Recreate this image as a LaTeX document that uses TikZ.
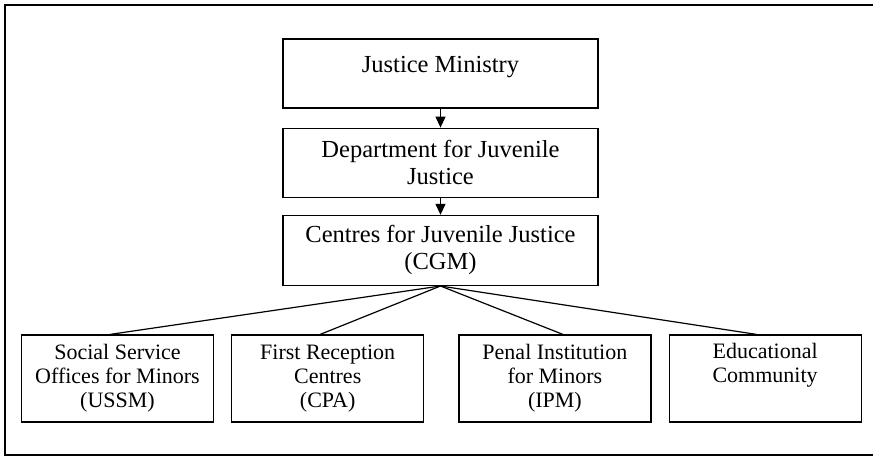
\documentclass[tikz,border=0pt]{standalone}
\usepackage{fontspec}
\setmainfont{Liberation Serif}
\usepackage{tikz}
\usetikzlibrary{arrows.meta}
\usetikzlibrary{calc,positioning}
\newlength{\orgboxsep}\setlength{\orgboxsep}{17pt}
\newlength{\orgwidesep}\setlength{\orgwidesep}{34pt}

\begin{document}
\begin{tikzpicture}[x=1pt,y=-1pt,
  topbox/.style={draw,line width=1.2pt,minimum width=315pt,minimum height=69pt,inner sep=0,align=center,font=\fontsize{24.5}{27}\selectfont},
  lowbox/.style={draw,line width=1.2pt,minimum width=192pt,minimum height=87pt,inner sep=0,align=center,font=\fontsize{22}{24}\selectfont},
  down/.style={-{Triangle[length=11pt,width=10pt]},line width=1.3pt},
  fan/.style={line width=1.2pt}]
\useasboundingbox (0,0) rectangle (873,456);
% outer frame
\draw[line width=1.5pt] (5,5) rectangle (890,455);
%%%%%%%%%%%%%%%%%%%%%%%%%%%%
%%%%%%%%% Ministry %%%%%%%%%
%%%%%%%%%%%%%%%%%%%%%%%%%%%%
\node[topbox, text depth=18pt] (ministry) at (440.5,73.5) {Justice Ministry};
\node[topbox, below=19pt of ministry] (dept) {Department for Juvenile\\Justice};
\node[topbox, minimum height=70pt, below=17pt of dept] (cgm) {Centres for Juvenile Justice\\(CGM)};
\draw[down] (ministry) -- (dept);
\draw[down] (dept) -- (cgm);
%%%%%%%%%%%%%%%%%%%%%%%%%%%%
%%%%%%%%% Services %%%%%%%%%
%%%%%%%%%%%%%%%%%%%%%%%%%%%%
\node[lowbox] (ussm) at (117.5,378.5) {Social Service\\Offices for Minors\\(USSM)};
\node[lowbox, right=\orgboxsep of ussm] (cpa) {First Reception\\Centres\\(CPA)};
\node[lowbox, right=\orgwidesep of cpa] (ipm) {Penal Institution\\for Minors\\(IPM)};
\node[lowbox, right=\orgboxsep of ipm] (edu) {Educational\\Community\\\strut};
\draw[fan] (cgm.south) -- ([xshift=-7.5pt]ussm.north);
\draw[fan] (cgm.south) -- ([xshift=-7.5pt]cpa.north);
\draw[fan] (cgm.south) -- ([xshift=8pt]ipm.north);
\draw[fan] (cgm.south) -- ([xshift=-8.5pt]edu.north);
\end{tikzpicture}
\end{document}
